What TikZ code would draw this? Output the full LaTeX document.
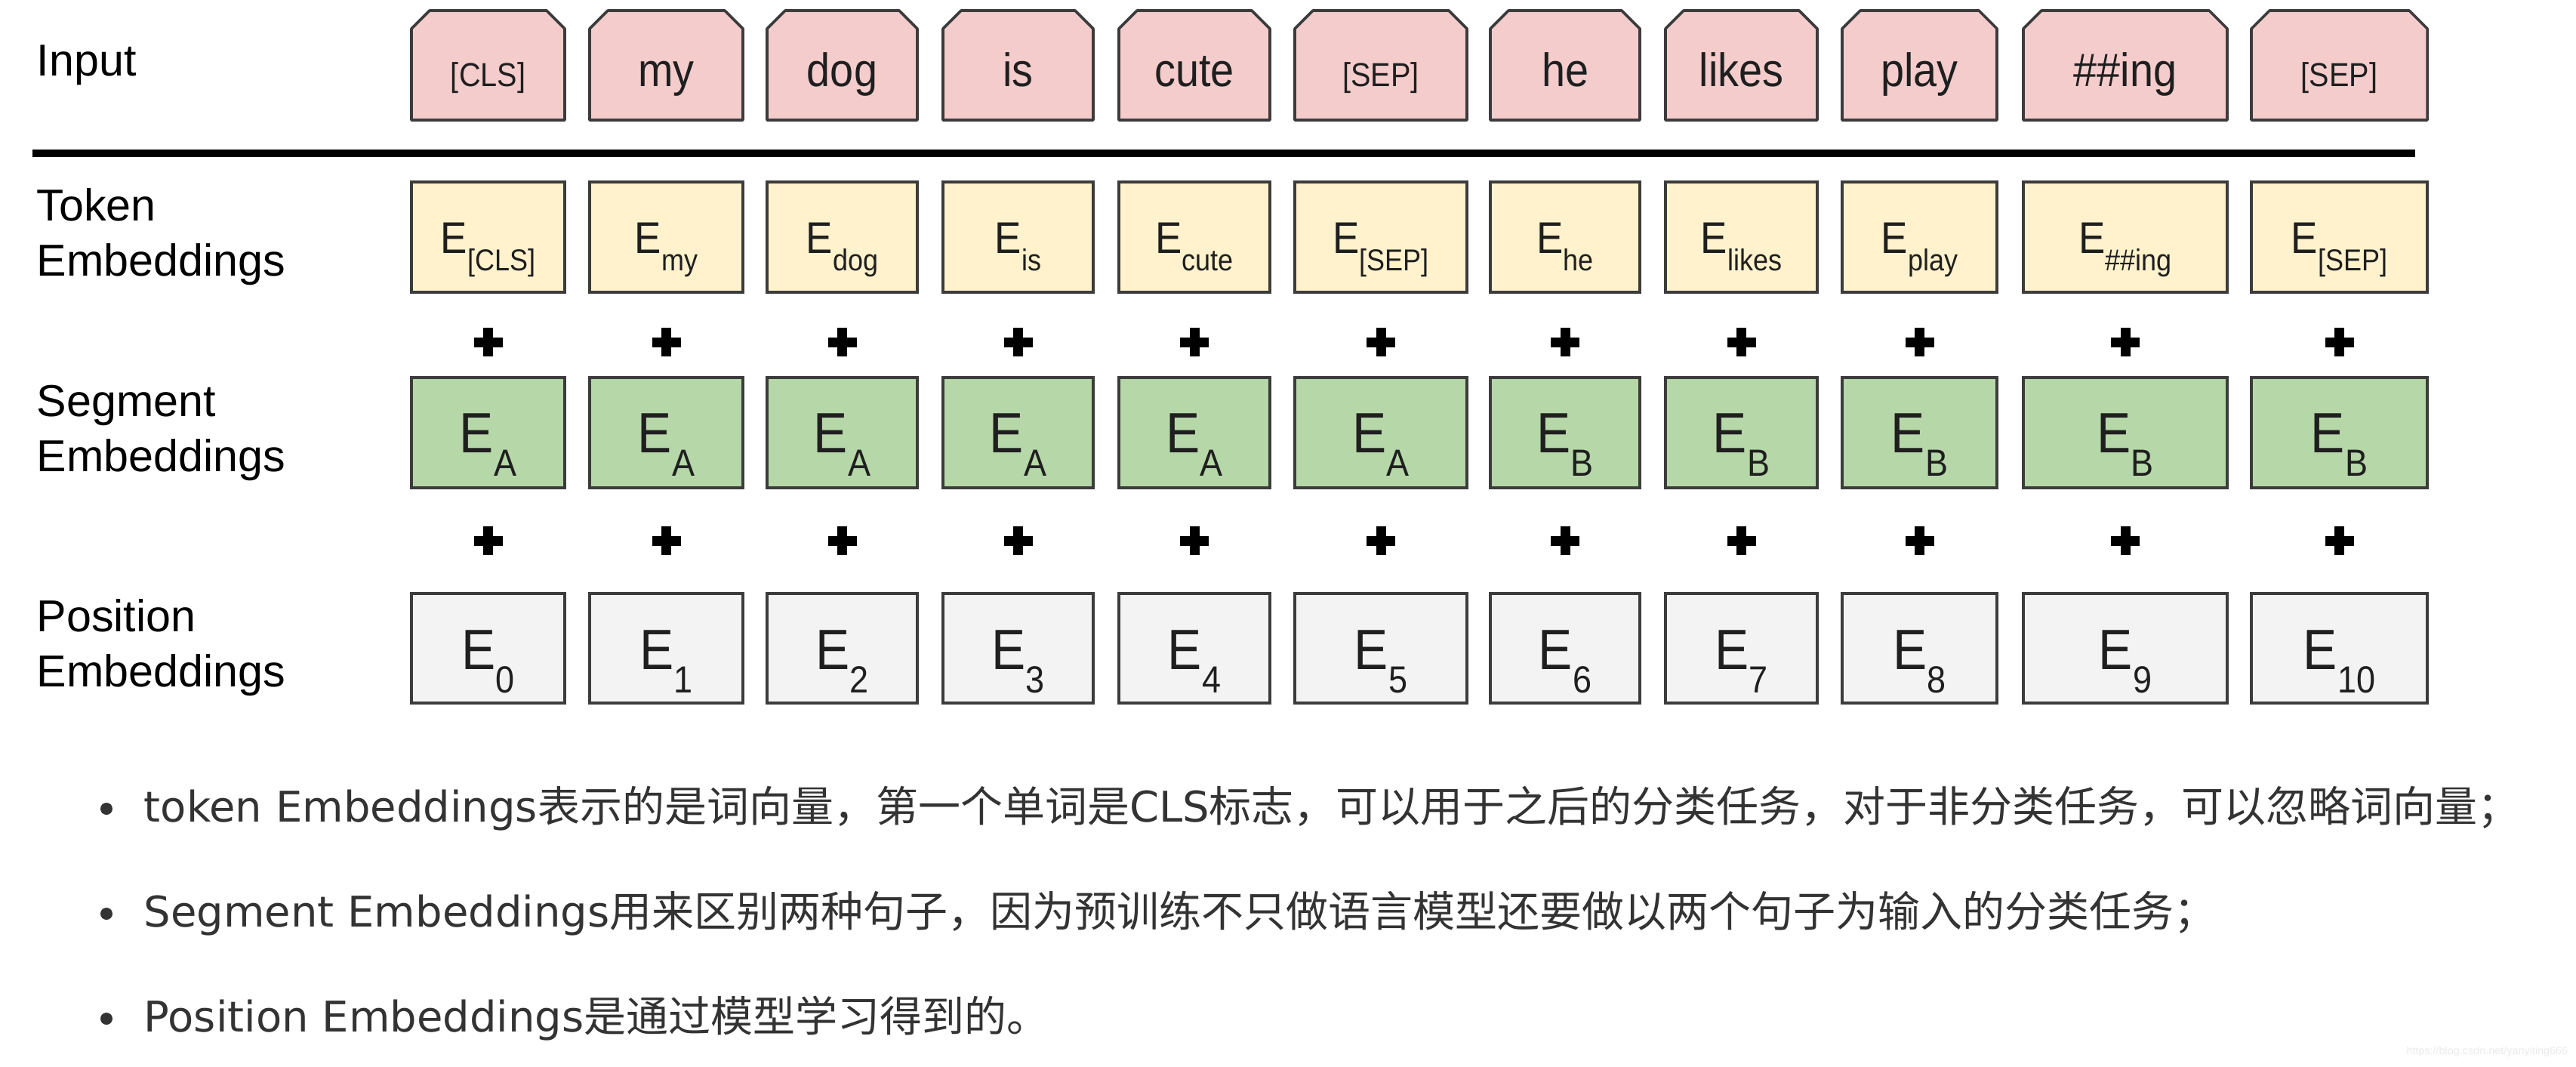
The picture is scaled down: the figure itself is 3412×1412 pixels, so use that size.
\documentclass[tikz,border=0pt]{standalone}
\usepackage{fontspec}
\usepackage{xcolor}
\setmainfont{Liberation Sans}
\newfontfamily\boxfont[FakeStretch=0.9]{Liberation Sans}
\newfontfamily\latinfont{DejaVu Sans}
\newfontfamily\cjk{Noto Sans CJK SC}

\definecolor{inred}{HTML}{F4CCCC}
\definecolor{tokyellow}{HTML}{FFF2CC}
\definecolor{seggreen}{HTML}{B6D7A8}
\definecolor{posgray}{HTML}{F3F3F3}
\definecolor{edgegray}{HTML}{3C3C3C}
\definecolor{notegray}{HTML}{333333}

\newcommand{\tagsz}{\fontsize{11}{11}\selectfont}
\newcommand{\tokE}[1]{E\raisebox{-5.75pt}{\fontsize{10}{10}\selectfont #1}}
\newcommand{\bigE}[1]{E\raisebox{-7.75pt}{\fontsize{12.5}{12.5}\selectfont #1}}

\tikzset{
  inbox/.style={fill=inred, draw=edgegray, line width=0.9pt, line join=round},
  tokbox/.style={fill=tokyellow, draw=edgegray, line width=0.9pt},
  segbox/.style={fill=seggreen, draw=edgegray, line width=0.9pt},
  posbox/.style={fill=posgray, draw=edgegray, line width=0.9pt},
  rowlabel/.style={anchor=west, align=left, inner sep=0pt, font=\fontsize{14.8}{18.25}\selectfont},
  cell/.style={anchor=base, inner sep=0pt, text=black!88},
  bullet/.style={anchor=west, inner sep=0pt, text=notegray, font=\fontsize{14}{17}\selectfont},
}

\begin{document}
\begin{tikzpicture}[x=0.25pt,y=-0.25pt]
\useasboundingbox[fill=white] (0,0) rectangle (3412,1412);

\node[rowlabel] (lblin) at (48,86) {Input};
\node[rowlabel] (lbltok) at (48,314) {Token\\Embeddings};
\node[rowlabel] (lblseg) at (48,573) {Segment\\Embeddings};
\node[rowlabel] (lblpos) at (48,858) {Position\\Embeddings};

\draw[line width=2.5pt] (43,203) -- (3199,203);

\foreach \lft/\rgt/\word/\sub/\seg [count=\i from 0] in {
    545/748/{\tagsz[CLS]}/{[CLS]}/A, 781/984/my/my/A, 1016/1215/dog/dog/A,
    1249/1448/is/is/A, 1482/1682/cute/cute/A, 1715/1943/{\tagsz[SEP]}/{[SEP]}/A,
    1974/2172/he/he/B, 2206/2407/likes/likes/B, 2440/2645/play/play/B,
    2680/2950/{\#\#ing}/{\#\#ing}/B, 2982/3215/{\tagsz[SEP]}/{[SEP]}/B} {
  \pgfmathsetmacro\c{(\lft+\rgt)/2}
  \filldraw[inbox] (\lft,159) -- (\lft,38) -- (\lft+24,14) -- (\rgt-24,14) -- (\rgt,38) -- (\rgt,159) -- cycle;
  \node[cell, font=\boxfont\fontsize{15.5}{15.5}\selectfont] (in\i) at (\c,115) {\word};
  \draw[tokbox] (\lft,241) rectangle (\rgt,387);
  \node[cell, font=\boxfont\fontsize{14.7}{14.7}\selectfont] (tok\i) at (\c,335) {\tokE{\sub}};
  \fill (\c-19,446.5) rectangle (\c+19,459.5);
  \fill (\c-6.5,434) rectangle (\c+6.5,472);
  \draw[segbox] (\lft,500) rectangle (\rgt,646);
  \node[cell, font=\boxfont\fontsize{18.8}{18.8}\selectfont] (seg\i) at (\c,599) {\bigE{\seg}};
  \fill (\c-19,709.5) rectangle (\c+19,722.5);
  \fill (\c-6.5,697) rectangle (\c+6.5,735);
  \draw[posbox] (\lft,786) rectangle (\rgt,931);
  \node[cell, font=\boxfont\fontsize{18.8}{18.8}\selectfont] (pos\i) at (\c,886) {\bigE{\i}};
}

\fill[notegray] (141,1071) circle (8);
\node[bullet] (note1) at (190,1071) {{\latinfont token Embeddings}{\cjk 表示的是词向量，第一个单词是}{\latinfont CLS}{\cjk 标志，可以用于之后的分类任务，对于非分类任务，可以忽略词向量；}};
\fill[notegray] (141,1210) circle (8);
\node[bullet] (note2) at (190,1210) {{\latinfont Segment Embeddings}{\cjk 用来区别两种句子，因为预训练不只做语言模型还要做以两个句子为输入的分类任务；}};
\fill[notegray] (141,1349) circle (8);
\node[bullet] (note3) at (190,1349) {{\latinfont Position Embeddings}{\cjk 是通过模型学习得到的。}};

\node[anchor=east, inner sep=0pt, text=black!8, font=\fontsize{3.6}{4}\selectfont] (mark) at (3402,1393) {https://blog.csdn.net/yanyiting666};
\end{tikzpicture}
\end{document}
